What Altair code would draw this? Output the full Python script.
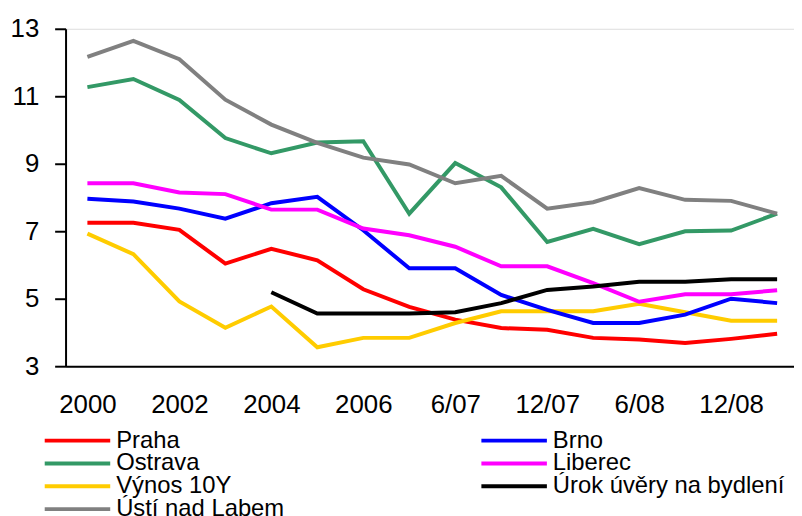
import altair as alt
import pandas as pd

categories = ["2000", "2001", "2002", "2003", "2004", "2005", "2006", "3/07",
              "6/07", "9/07", "12/07", "3/08", "6/08", "9/08", "12/08", "3/09"]
tick_labels = ["2000", "2002", "2004", "2006", "6/07", "12/07", "6/08", "12/08"]

praha = [7.25, 7.25, 7.04, 6.04, 6.48, 6.14, 5.28, 4.76, 4.38, 4.13, 4.08, 3.84, 3.79, 3.69, 3.81, 3.96]
brno = [7.96, 7.88, 7.67, 7.37, 7.83, 8.02, 7.03, 5.9, 5.9, 5.11, 4.67, 4.28, 4.28, 4.53, 5.0, 4.87]
ostrava = [11.27, 11.51, 10.89, 9.76, 9.31, 9.63, 9.67, 7.52, 9.02, 8.3, 6.68, 7.07, 6.62, 7.0, 7.02, 7.52]
liberec = [8.42, 8.42, 8.15, 8.1, 7.64, 7.64, 7.08, 6.88, 6.54, 5.96, 5.96, 5.46, 4.91, 5.13, 5.13, 5.25]
vynos = [6.93, 6.32, 4.92, 4.14, 4.77, 3.56, 3.84, 3.84, 4.28, 4.63, 4.63, 4.63, 4.85, 4.6, 4.35, 4.35]
urok = [None, None, None, None, 5.19, 4.56, 4.56, 4.56, 4.6, 4.87, 5.26, 5.36, 5.5, 5.5, 5.58, 5.58]
usti = [12.17, 12.64, 12.1, 10.9, 10.16, 9.62, 9.18, 8.98, 8.42, 8.64, 7.67, 7.86, 8.28, 7.93, 7.9, 7.52]

# legend order (filled column by column: left column first, then right column)
series_names = ["Praha", "Ostrava", "Výnos 10Y", "Ústí nad Labem",
                "Brno", "Liberec", "Úrok úvěry na bydlení"]
series_values = [praha, ostrava, vynos, usti, brno, liberec, urok]
series_colors = ["#FF0000", "#339966", "#FFCC00", "#808080", "#0000FF", "#FF00FF", "#000000"]

rows = []
for name, vals in zip(series_names, series_values):
    for cat, v in zip(categories, vals):
        if v is not None:
            rows.append({"obdobi": cat, "hodnota": v, "serie": name})
df = pd.DataFrame(rows)

FONT = "Liberation Sans"

chart = alt.Chart(df).mark_line(strokeWidth=4, strokeJoin="miter").encode(
    x=alt.X("obdobi:O", sort=categories,
            scale=alt.Scale(type="point", padding=0.421, align=0.564),
            axis=alt.Axis(title=None, values=tick_labels, labelAngle=0, ticks=False,
                          domainColor="black", domainWidth=2, labelFont=FONT,
                          labelFontSize=26, labelColor="black", labelPadding=26)),
    y=alt.Y("hodnota:Q", scale=alt.Scale(domain=[3, 13], nice=False, zero=False),
            axis=alt.Axis(title=None, values=[3, 5, 7, 9, 11, 13], grid=False,
                          domainColor="black", domainWidth=2, tickColor="black",
                          tickWidth=2, tickSize=11, labelFont=FONT, labelFontSize=26,
                          labelColor="black", labelPadding=16)),
    color=alt.Color("serie:N", sort=series_names,
                    scale=alt.Scale(domain=series_names, range=series_colors),
                    legend=alt.Legend(title=None, orient="none", legendX=-23, legendY=404,
                                      columns=2, symbolType="stroke", symbolSize=4356,
                                      symbolStrokeWidth=4, labelFont=FONT, labelFontSize=24,
                                      labelColor="black", labelLimit=400, labelOffset=4,
                                      clipHeight=22, rowPadding=-1.6, columnPadding=196)),
    detail="serie:N",
).properties(
    width=734, height=340,
    autosize=alt.AutoSizeParams(type="none"),
    padding={"left": 58, "top": 19, "right": 0, "bottom": 149},
).configure_view(stroke=None).configure(background="white")

chart.save("out.html", embed_options={"renderer": "svg", "actions": False})
